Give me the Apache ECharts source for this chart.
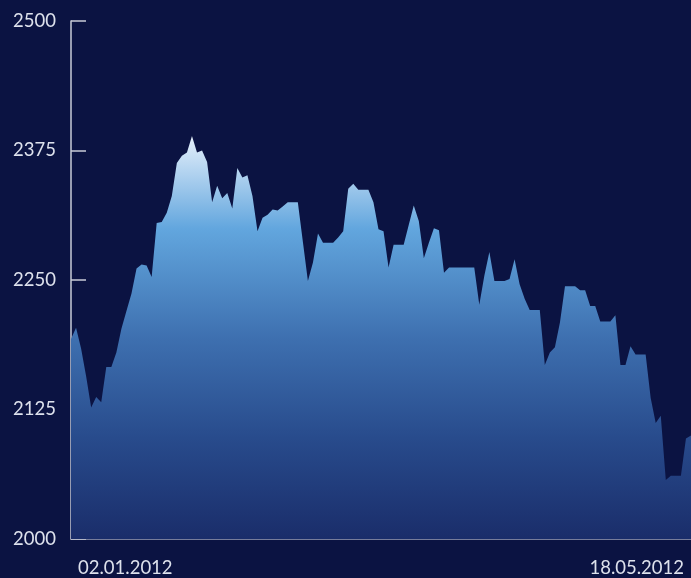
<!DOCTYPE html>
<html>
<head>
<meta charset="utf-8">
<script src="https://cdn.jsdelivr.net/npm/echarts@6/dist/echarts.min.js"></script>
<style>
html,body{margin:0;padding:0;background:#0b1342;}
#chart{width:691px;height:578px;}
</style>
</head>
<body>
<div id="chart"></div>
<script>
const dateLabels = ["02.01.2012", "18.05.2012"];
const yTicks = [2000, 2125, 2250, 2375, 2500];
const values = [
  2193, 2204, 2184, 2157, 2127, 2137, 2132, 2166, 2166, 2180,
  2203, 2220, 2237, 2261, 2265, 2264, 2253, 2305, 2306, 2315,
  2331, 2363, 2370, 2373, 2389, 2373, 2375, 2364, 2325, 2341,
  2329, 2334, 2319, 2358, 2349, 2351, 2331, 2297, 2310, 2313,
  2318, 2317, 2321, 2325, 2325, 2325, 2287, 2249, 2267, 2295,
  2286, 2286, 2286, 2291, 2297, 2338, 2343, 2337, 2337, 2337,
  2325, 2299, 2297, 2262, 2284, 2284, 2284, 2303, 2322, 2307,
  2271, 2286, 2300, 2298, 2257, 2262, 2262, 2262, 2262, 2262,
  2262, 2226, 2254, 2277, 2249, 2249, 2249, 2251, 2270, 2246,
  2232, 2221, 2221, 2221, 2168, 2180, 2185, 2209, 2244, 2244,
  2244, 2240, 2240, 2225, 2225, 2210, 2210, 2210, 2216, 2168,
  2168, 2186, 2178, 2178, 2178, 2136, 2112, 2119, 2057, 2061,
  2061, 2061, 2097, 2100
];

const chart = echarts.init(document.getElementById('chart'));
const lastIdx = values.length - 1;
const font = 'Lato, "Open Sans", sans-serif';
chart.setOption({
  backgroundColor: '#0b1342',
  animation: false,
  grid: { left: 71, right: 0, top: 21, bottom: 37, containLabel: false },
  xAxis: {
    type: 'value',
    min: 0,
    max: lastIdx,
    interval: lastIdx,
    splitLine: { show: false },
    axisTick: { show: false },
    axisLine: { show: true, lineStyle: { color: '#9aa0b8', width: 1.5 } },
    axisLabel: {
      color: '#dde1ec',
      fontFamily: font,
      fontSize: 18.5,
      margin: 20,
      padding: [0, 7, 0, 7],
      alignMinLabel: 'left',
      alignMaxLabel: 'right',
      formatter: function (v) {
        if (v === 0) return dateLabels[0];
        if (v === lastIdx) return dateLabels[1];
        return '';
      }
    }
  },
  yAxis: {
    type: 'value',
    min: yTicks[0],
    max: yTicks[yTicks.length - 1],
    interval: yTicks[1] - yTicks[0],
    offset: 1,
    splitLine: { show: false },
    axisLine: { show: true, lineStyle: { color: '#c9ccd8', width: 1.5 } },
    axisTick: { show: true, inside: true, length: 15, lineStyle: { color: '#c9ccd8', width: 1.5 } },
    axisLabel: {
      color: '#dde1ec',
      fontFamily: font,
      fontSize: 18.5,
      margin: 14,
      formatter: function (v) { return String(v); }
    }
  },
  series: [{
    type: 'line',
    data: values.map((v, i) => [i, v]),
    showSymbol: false,
    symbol: 'none',
    lineStyle: { width: 0 },
    areaStyle: {
      opacity: 1,
      origin: 'start',
      color: new echarts.graphic.LinearGradient(0, 0, 0, 1, [
        { offset: 0, color: '#e6f0fb' },
        { offset: 0.23, color: '#62a6de' },
        { offset: 0.5, color: '#3e70b0' },
        { offset: 0.75, color: '#284b8c' },
        { offset: 1, color: '#1a2d6a' }
      ])
    }
  }]
});
</script>
</body>
</html>
